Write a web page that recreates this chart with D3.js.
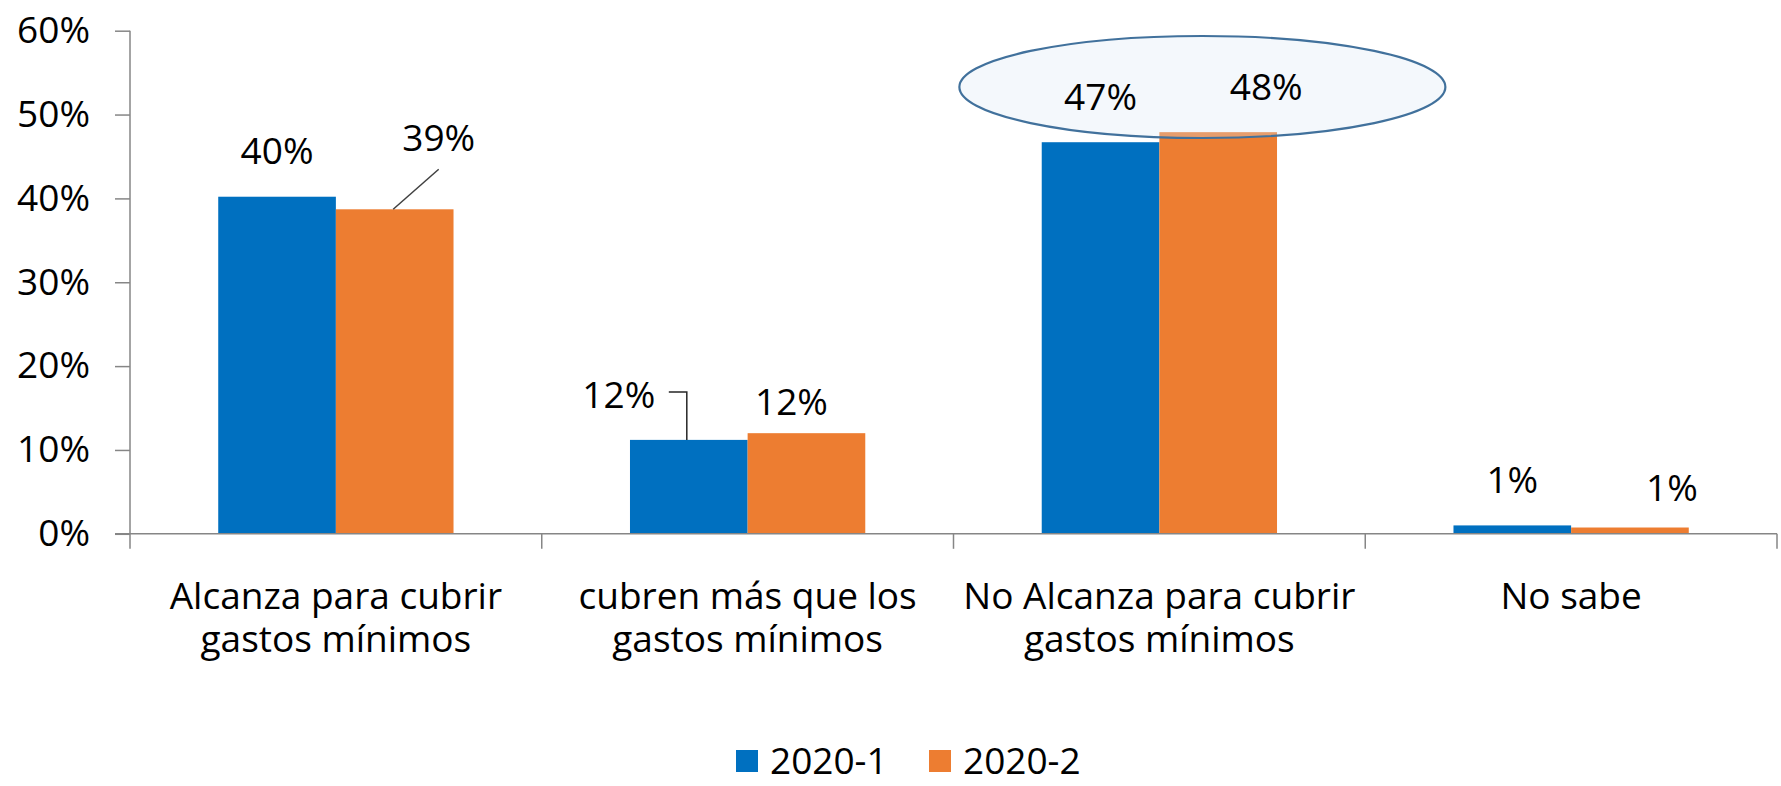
<!DOCTYPE html>
<html>
<head>
<meta charset="utf-8">
<script src="https://cdn.jsdelivr.net/npm/d3@7"></script>
<style>
  html, body { margin: 0; padding: 0; background: #ffffff; }
  text { font-family: "Open Sans", sans-serif; fill: #000000; }
</style>
</head>
<body>
<svg id="chart" width="1781" height="786"></svg>
<script>
// categories (line breaks as in the chart)
const categories = [
  "Alcanza para cubrir\ngastos mínimos",
  "cubren más que los\ngastos mínimos",
  "No Alcanza para cubrir\ngastos mínimos",
  "No sabe"
];
const seriesNames = ["2020-1", "2020-2"];
// values in %
const values2020_1 = [40.2, 11.2, 46.7, 1.0];
const values2020_2 = [38.7, 12.0, 47.9, 0.75];
// data labels as printed on the chart
const labels2020_1 = ["40%", "12%", "47%", "1%"];
const labels2020_2 = ["39%", "12%", "48%", "1%"];
const yTicks = [0, 10, 20, 30, 40, 50, 60];

const colors = ["#0070C0", "#ED7D31"];
const fontSize = 37;

const svg = d3.select("#chart");

const x = d3.scaleBand().domain(categories).range([130, 1777]).paddingInner(0).paddingOuter(0);
const x1 = d3.scaleBand().domain(seriesNames).range([0, x.bandwidth()]).paddingInner(0).paddingOuter(0.75);
const y = d3.scaleLinear().domain([0, 60]).range([533.8, 30.7]);

const rows = categories.map((c, i) => ({
  cat: c,
  items: [
    { s: seriesNames[0], v: values2020_1[i], label: labels2020_1[i], ci: i },
    { s: seriesNames[1], v: values2020_2[i], label: labels2020_2[i], ci: i }
  ]
}));

// label placement tweaks (moved by hand in the original)
const labelShift = {
  "2020-1": [[0, -33], [-70, -32], [0, -32], [0, -32]],
  "2020-2": [[44, -58], [-15, -18], [48, -32], [42, -27]]
};

// y axis
const yAxis = svg.append("g")
  .attr("transform", "translate(130,0)")
  .call(d3.axisLeft(y).tickValues(yTicks).tickFormat(d => d + "%").tickSize(15).tickPadding(25));
yAxis.select(".domain").remove();
yAxis.selectAll("line").attr("stroke", "#868686").attr("stroke-width", 1.5);
yAxis.selectAll("text")
  .style("font-family", "'Open Sans', sans-serif")
  .style("font-size", fontSize + "px")
  .attr("fill", "#000");

svg.append("line")
  .attr("x1", 130).attr("x2", 130)
  .attr("y1", y(60)).attr("y2", y(0) + 15)
  .attr("stroke", "#868686").attr("stroke-width", 1.5);

// bars
const groups = svg.append("g").selectAll("g")
  .data(rows)
  .join("g")
  .attr("transform", d => `translate(${x(d.cat)},0)`);

groups.selectAll("rect")
  .data(d => d.items)
  .join("rect")
  .attr("x", d => x1(d.s))
  .attr("width", x1.bandwidth())
  .attr("y", d => y(d.v))
  .attr("height", d => y(0) - y(d.v))
  .attr("fill", (d, i) => colors[i]);

// x axis line and category separators
svg.append("line")
  .attr("x1", 115).attr("x2", 1777)
  .attr("y1", y(0)).attr("y2", y(0))
  .attr("stroke", "#868686").attr("stroke-width", 1.5);

const bounds = categories.map(c => x(c)).concat([x.range()[1]]);
svg.append("g").selectAll("line")
  .data(bounds.slice(1))
  .join("line")
  .attr("x1", d => d).attr("x2", d => d)
  .attr("y1", y(0)).attr("y2", y(0) + 15)
  .attr("stroke", "#868686").attr("stroke-width", 1.5);

// category labels
svg.append("g").selectAll("text")
  .data(categories)
  .join("text")
  .attr("text-anchor", "middle")
  .style("font-size", fontSize + "px")
  .attr("transform", d => `translate(${x(d) + x.bandwidth() / 2},609)`)
  .selectAll("tspan")
  .data(d => d.split("\n"))
  .join("tspan")
  .attr("x", 0)
  .attr("y", (d, i) => i * 43)
  .text(d => d);

// highlight ellipse around the third group labels
const hi = categories[2];
svg.append("ellipse")
  .attr("cx", x(hi) + x.bandwidth() / 2 + 43)
  .attr("cy", 87)
  .attr("rx", 243)
  .attr("ry", 51)
  .attr("fill", "#dbe8f5")
  .attr("fill-opacity", 0.3)
  .attr("stroke", "#41719C")
  .attr("stroke-width", 2.2);

// leader lines
const barTop = (ci, si) => {
  const c = categories[ci], s = seriesNames[si];
  return { cx: x(c) + x1(s) + x1.bandwidth() / 2, top: y([values2020_1, values2020_2][si][ci]) };
};
const b0 = barTop(0, 1);
svg.append("line")
  .attr("x1", b0.cx - 1.5).attr("y1", b0.top)
  .attr("x2", b0.cx + 44).attr("y2", b0.top - 40)
  .attr("stroke", "#404040").attr("stroke-width", 1.5);
const b1 = barTop(1, 0);
svg.append("path")
  .attr("d", `M${b1.cx - 20},${b1.top - 48}H${b1.cx - 2}V${b1.top}`)
  .attr("fill", "none")
  .attr("stroke", "#262626").attr("stroke-width", 1.5);

// data labels (top layer)
svg.append("g").selectAll("text")
  .data(rows.flatMap(r => r.items.map(it => ({ ...it, cat: r.cat }))))
  .join("text")
  .attr("text-anchor", "middle")
  .style("font-size", fontSize + "px")
  .attr("x", d => x(d.cat) + x1(d.s) + x1.bandwidth() / 2 + labelShift[d.s][d.ci][0])
  .attr("y", d => y(d.v) + labelShift[d.s][d.ci][1])
  .text(d => d.label);

// legend
const legend = svg.append("g").attr("transform", "translate(736,761)");
const li = legend.selectAll("g")
  .data(seriesNames)
  .join("g")
  .attr("transform", (d, i) => `translate(${i * 193},0)`);
li.append("rect")
  .attr("x", 0).attr("y", -11)
  .attr("width", 22).attr("height", 22)
  .attr("fill", (d, i) => colors[i]);
li.append("text")
  .attr("x", 34).attr("y", 13)
  .style("font-size", fontSize + "px")
  .text(d => d);
</script>
</body>
</html>
